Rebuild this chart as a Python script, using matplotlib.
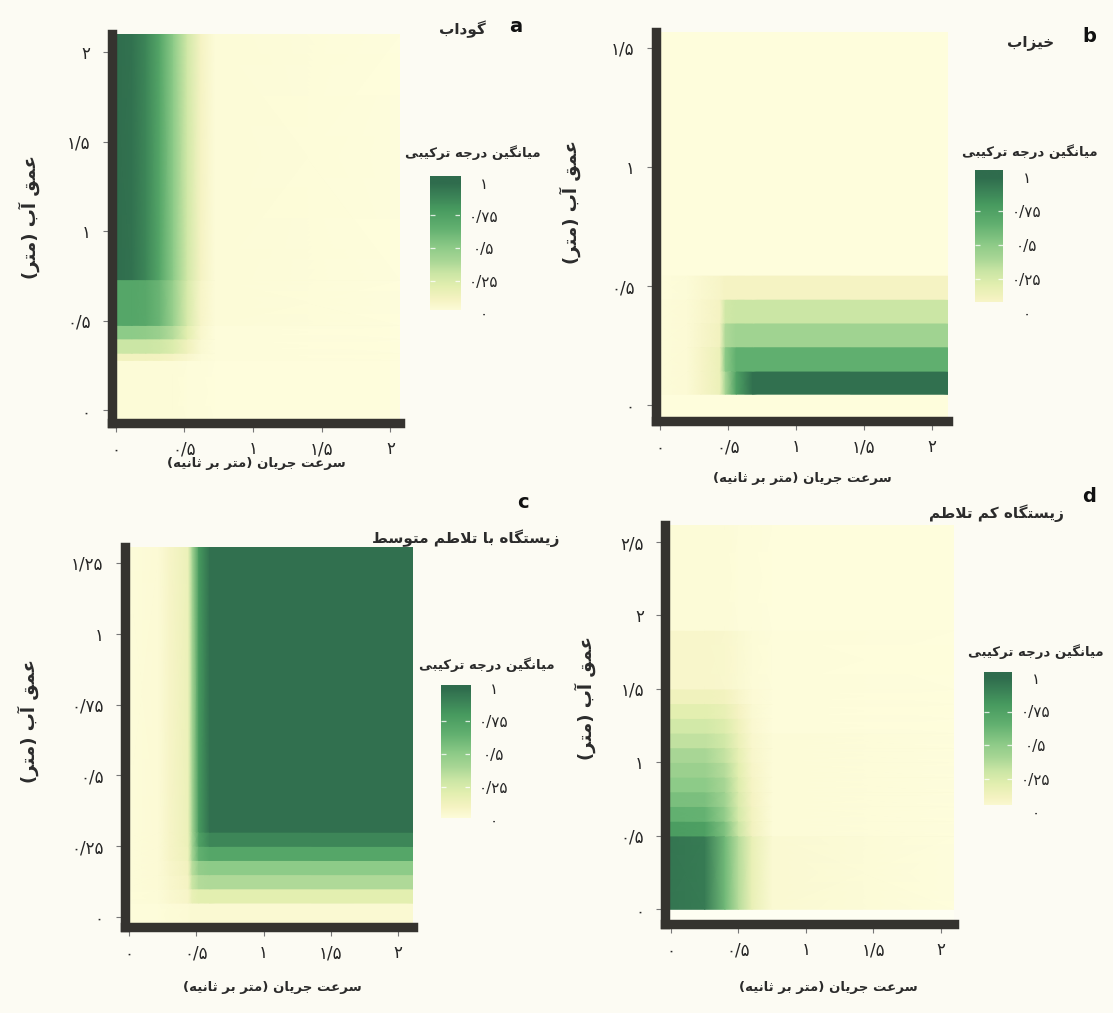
import unicodedata
import numpy as np
import matplotlib
matplotlib.use("Agg")
import matplotlib.pyplot as plt
from matplotlib import font_manager
from matplotlib.font_manager import FontProperties
from matplotlib.colors import LinearSegmentedColormap
from matplotlib.ticker import FuncFormatter
from fontTools.ttLib import TTFont

# mean composite score, x = current velocity (m/s), y = water depth (m)
# x nodes are blended smoothly, y edges give the depth bands
a_x = [-0.03, 0.12, 0.22, 0.32, 0.42, 0.52, 0.62, 0.72, 2.07]
a_y = [-0.07, 0.28, 0.32, 0.40, 0.475, 0.73, 2.10]
a_z = [
    [0.02, 0.02, 0.02, 0.02, 0.02, 0.01, 0.01, 0.00, 0.00],
    [0.12, 0.12, 0.12, 0.11, 0.09, 0.06, 0.02, 0.01, 0.00],
    [0.30, 0.30, 0.30, 0.28, 0.23, 0.13, 0.04, 0.01, 0.00],
    [0.50, 0.50, 0.49, 0.45, 0.36, 0.20, 0.06, 0.01, 0.00],
    [0.72, 0.72, 0.70, 0.62, 0.46, 0.25, 0.08, 0.02, 0.00],
    [1.00, 0.97, 0.88, 0.72, 0.50, 0.28, 0.10, 0.02, 0.00],
]

b_x = [-0.035, 0.20, 0.30, 0.44, 0.48, 0.56, 0.68, 2.12]
b_y = [-0.067, 0.046, 0.143, 0.245, 0.345, 0.445, 0.546, 1.567]
b_z = [
    [0.00, 0.00, 0.00, 0.00, 0.00, 0.00, 0.00, 0.00],
    [0.01, 0.03, 0.08, 0.15, 0.40, 0.75, 0.98, 0.98],
    [0.01, 0.03, 0.08, 0.15, 0.50, 0.66, 0.66, 0.66],
    [0.01, 0.03, 0.07, 0.12, 0.38, 0.43, 0.43, 0.43],
    [0.01, 0.03, 0.06, 0.10, 0.28, 0.30, 0.30, 0.30],
    [0.00, 0.02, 0.05, 0.08, 0.10, 0.10, 0.10, 0.10],
    [0.00, 0.00, 0.00, 0.00, 0.00, 0.00, 0.00, 0.00],
]

c_x = [-0.033, 0.22, 0.30, 0.44, 0.47, 0.52, 0.60, 2.11]
c_y = [-0.035, 0.05, 0.10, 0.15, 0.20, 0.25, 0.30, 1.306]
c_z = [
    [0.01, 0.01, 0.02, 0.03, 0.04, 0.04, 0.04, 0.04],
    [0.01, 0.02, 0.05, 0.08, 0.17, 0.20, 0.20, 0.20],
    [0.01, 0.03, 0.06, 0.10, 0.30, 0.37, 0.38, 0.38],
    [0.01, 0.03, 0.07, 0.12, 0.35, 0.48, 0.50, 0.50],
    [0.01, 0.03, 0.08, 0.14, 0.40, 0.65, 0.72, 0.72],
    [0.01, 0.03, 0.08, 0.15, 0.40, 0.75, 0.88, 0.88],
    [0.01, 0.03, 0.08, 0.15, 0.40, 0.80, 0.98, 0.98],
]

d_x = [-0.045, 0.25, 0.40, 0.50, 0.60, 0.75, 2.10]
d_y = [0.0, 0.5, 0.6, 0.7, 0.8, 0.9, 1.0, 1.1, 1.2, 1.3, 1.4, 1.5, 1.9, 2.616]
d_z = [
    [0.96, 0.93, 0.60, 0.36, 0.17, 0.04, 0.00],
    [0.78, 0.76, 0.55, 0.30, 0.12, 0.02, 0.00],
    [0.65, 0.64, 0.48, 0.26, 0.11, 0.02, 0.00],
    [0.57, 0.56, 0.43, 0.24, 0.10, 0.02, 0.00],
    [0.50, 0.50, 0.40, 0.22, 0.09, 0.02, 0.00],
    [0.45, 0.45, 0.36, 0.20, 0.08, 0.02, 0.00],
    [0.40, 0.40, 0.32, 0.18, 0.07, 0.02, 0.00],
    [0.33, 0.33, 0.27, 0.15, 0.06, 0.02, 0.00],
    [0.27, 0.27, 0.22, 0.13, 0.05, 0.01, 0.00],
    [0.20, 0.20, 0.17, 0.10, 0.04, 0.01, 0.00],
    [0.13, 0.13, 0.11, 0.07, 0.03, 0.01, 0.00],
    [0.07, 0.07, 0.06, 0.04, 0.02, 0.01, 0.00],
    [0.02, 0.02, 0.02, 0.01, 0.01, 0.00, 0.00],
]

x_ticks = [0, 0.5, 1, 1.5, 2]
a_yticks = [0, 0.5, 1, 1.5, 2]
b_yticks = [0, 0.5, 1, 1.5]
c_yticks = [0, 0.25, 0.5, 0.75, 1, 1.25]
d_yticks = [0, 0.5, 1, 1.5, 2, 2.5]
legend_ticks = [0, 0.25, 0.5, 0.75, 1]

y_label = "عمق آب (متر)"
x_label = "سرعت جریان (متر بر ثانیه)"
legend_title = "میانگین درجه ترکیبی"
titles = ["گوداب", "خیزاب", "زیستگاه با تلاطم متوسط", "زیستگاه کم تلاطم"]

W, H = 1113, 1013
BG = "#fcfbf3"
cmap = LinearSegmentedColormap.from_list("score", [
    (0.0, "#fefddc"), (0.1, "#f5f3c2"), (0.2, "#e3efb0"), (0.3, "#cbe6a5"),
    (0.4, "#a8d695"), (0.5, "#8ecb88"), (0.65, "#62b070"), (0.8, "#479a5f"),
    (0.9, "#3b8257"), (1.0, "#2f6c4d")])

# ---- minimal arabic shaping (matplotlib has no complex text layout)
FORMS = {  # isolated, final, initial, medial
    "ا": "ﺍﺎ", "آ": "ﺁﺂ", "د": "ﺩﺪ", "ذ": "ﺫﺬ", "ر": "ﺭﺮ", "ز": "ﺯﺰ",
    "ژ": "ﮊﮋ", "و": "ﻭﻮ",
    "ب": "ﺏﺐﺑﺒ", "ت": "ﺕﺖﺗﺘ", "ث": "ﺙﺚﺛﺜ", "ج": "ﺝﺞﺟﺠ", "ح": "ﺡﺢﺣﺤ",
    "خ": "ﺥﺦﺧﺨ", "س": "ﺱﺲﺳﺴ", "ش": "ﺵﺶﺷﺸ", "ص": "ﺹﺺﺻﺼ", "ض": "ﺽﺾﺿﻀ",
    "ط": "ﻁﻂﻃﻄ", "ظ": "ﻅﻆﻇﻈ", "ع": "ﻉﻊﻋﻌ", "غ": "ﻍﻎﻏﻐ", "ف": "ﻑﻒﻓﻔ",
    "ق": "ﻕﻖﻗﻘ", "ل": "ﻝﻞﻟﻠ", "م": "ﻡﻢﻣﻤ", "ن": "ﻥﻦﻧﻨ", "ه": "ﻩﻪﻫﻬ",
    "پ": "ﭖﭗﭘﭙ", "چ": "ﭺﭻﭼﭽ", "ک": "ﮎﮏﮐﮑ", "گ": "ﮒﮓﮔﮕ", "ی": "ﯼﯽﯾﯿ",
}
LAM_ALEF = {"ا": "ﻻﻼ", "آ": "ﻵﻶ"}
MIRROR = {"(": ")", ")": "("}


def font_cmap(weight):
    path = font_manager.findfont(FontProperties(family="DejaVu Sans", weight=weight))
    return TTFont(path).getBestCmap()


CMAPS = {"normal": font_cmap("normal"), "bold": font_cmap("bold")}


def shape(text, weight="normal"):
    cm = CMAPS[weight]
    s = unicodedata.normalize("NFC", text).replace("\u064a", "\u06cc").replace("\u0643", "\u06a9")
    fwd = lambda c: c in FORMS and len(FORMS[c]) == 4
    out = []
    i = 0
    while i < len(s):
        c = s[i]
        if c not in FORMS:
            out.append(MIRROR.get(c, c))
            i += 1
            continue
        prev = s[i - 1] if i > 0 else ""
        nxt = s[i + 1] if i + 1 < len(s) else ""
        cp = fwd(prev)
        if c == "ل" and nxt in LAM_ALEF:
            g = LAM_ALEF[nxt][1 if cp else 0]
            out.append(g if ord(g) in cm else c + nxt)
            i += 2
            continue
        cn = fwd(c) and nxt in FORMS
        f = FORMS[c]
        g = f[3] if (cp and cn) else f[1] if cp else f[2] if cn else f[0]
        out.append(g if ord(g) in cm else c)
        i += 1
    return "".join(reversed(out))


def pick_weight(strings):
    need = {ord(ch) for t in strings for ch in shape(t, "bold") if not ch.isspace()}
    return "bold" if need <= set(CMAPS["bold"]) else "normal"


BOLD = pick_weight([y_label, x_label, legend_title] + titles)

FA = str.maketrans("0123456789.", "۰۱۲۳۴۵۶۷۸۹/")


def fa_num(v, pos=None):
    return f"{v:g}".translate(FA)


fig = plt.figure(figsize=(W / 100, H / 100), dpi=100, facecolor=BG)


def rect(left, top, right, bottom):
    return [left / W, 1 - bottom / H, (right - left) / W, (bottom - top) / H]


def ftext(x, y, s, size, weight="normal", persian=True, **kw):
    kw.setdefault("ha", "center")
    kw.setdefault("va", "center")
    fig.text(x / W, 1 - y / H, shape(s, weight) if persian else s, fontsize=size,
             fontweight=weight, family="DejaVu Sans", color=kw.pop("color", "#2b2b2b"), **kw)


def heat(ax, xs, ys, zs):
    z = np.asarray(zs, float)
    yy = []
    for lo, hi in zip(ys[:-1], ys[1:]):
        yy += [lo + 1e-4, hi - 1e-4]
    X, Y = np.meshgrid(xs, yy)
    ax.pcolormesh(X, Y, np.repeat(z, 2, axis=0), shading="gouraud", cmap=cmap, vmin=0, vmax=1)


def panel(box, xs, ys, zs, yticks, xlim, ylim):
    ax = fig.add_axes(rect(*box))
    ax.set_facecolor("#fefef2")
    heat(ax, xs, ys, zs)
    ax.set_xlim(*xlim)
    ax.set_ylim(*ylim)
    ax.set_xticks(x_ticks)
    ax.set_yticks(yticks)
    ax.xaxis.set_major_formatter(FuncFormatter(fa_num))
    ax.yaxis.set_major_formatter(FuncFormatter(fa_num))
    for side in ("top", "right"):
        ax.spines[side].set_visible(False)
    for side in ("left", "bottom"):
        ax.spines[side].set_linewidth(6.8)
        ax.spines[side].set_color("#35332f")
    ax.spines["left"].set_capstyle("projecting")
    ax.tick_params(axis="both", direction="out", length=6.5, width=0.8, color="#777777",
                   labelsize=12, labelcolor="#262626")
    ax.tick_params(axis="y", pad=8.5)
    ax.tick_params(axis="x", pad=6)
    for lab in ax.get_xticklabels() + ax.get_yticklabels():
        lab.set_family("DejaVu Sans")
    return ax


def legend(x0, x1, y_one, y_zero, lo, hi):
    unit = y_zero - y_one
    bottom = y_zero + 0.05 * unit
    top = y_one - (hi - 1) * unit
    cax = fig.add_axes(rect(x0, top, x1, bottom))
    cax.patch.set_alpha(0)
    grad = np.linspace(lo, hi, 256)[:, None]
    cax.imshow(grad, extent=[0, 1, lo, hi], origin="lower", aspect="auto", cmap=cmap, vmin=0, vmax=1)
    for v in legend_ticks[1:-1]:
        cax.hlines(v, 0, 0.18, color="white", lw=0.9, alpha=0.8)
        cax.hlines(v, 0.82, 1, color="white", lw=0.9, alpha=0.8)
    cax.set_xlim(0, 1)
    cax.set_ylim(-0.05, hi)
    cax.set_xticks([])
    cax.yaxis.tick_right()
    cax.set_yticks(legend_ticks)
    cax.yaxis.set_major_formatter(FuncFormatter(fa_num))
    cax.tick_params(axis="y", length=0, pad=17, labelsize=11, labelcolor="#262626")
    for lab in cax.get_yticklabels():
        lab.set_ha("center")
        lab.set_family("DejaVu Sans")
    for sp in cax.spines.values():
        sp.set_visible(False)


# panel a
panel((111.5, 34, 400, 423), a_x, a_y, a_z, a_yticks, (-0.03, 2.07), (-0.07, 2.10))
legend(430, 460, 183, 313, 0.02, 1.05)
ftext(473, 153, legend_title, 9.5, BOLD)
ftext(29, 217, y_label, 13, BOLD, rotation=90)
ftext(256, 463, x_label, 9.5, BOLD)
ftext(462, 29, titles[0], 11, BOLD)
ftext(516, 27, "a", 14, "bold", persian=False, color="#111111")

# panel b
panel((655.5, 32, 948, 421), b_x, b_y, b_z, b_yticks, (-0.035, 2.12), (-0.067, 1.567))
legend(975, 1003, 177, 313, 0.08, 1.05)
ftext(1030, 152, legend_title, 9.5, BOLD)
ftext(570, 202, y_label, 13, BOLD, rotation=90)
ftext(802, 478, x_label, 9.5, BOLD)
ftext(1031, 42, titles[1], 11, BOLD)
ftext(1089, 37, "b", 14, "bold", persian=False, color="#111111")

# panel c
panel((124.5, 547, 413, 927), c_x, c_y, c_z, c_yticks, (-0.033, 2.11), (-0.035, 1.306))
legend(441, 470, 688, 820, 0.015, 1.02)
ftext(487, 665, legend_title, 9.5, BOLD)
ftext(28, 721, y_label, 13, BOLD, rotation=90)
ftext(272, 987, x_label, 9.5, BOLD)
ftext(559, 538, titles[2], 11, BOLD, ha="right")
ftext(523, 503, "c", 14, "bold", persian=False, color="#111111")

# panel d
panel((665, 525, 954, 924), d_x, d_y, d_z, d_yticks, (-0.045, 2.10), (-0.10, 2.616))
legend(984, 1012, 678, 812, 0.05, 1.045)
ftext(1036, 652, legend_title, 9.5, BOLD)
ftext(585, 698, y_label, 13, BOLD, rotation=90)
ftext(828, 987, x_label, 9.5, BOLD)
ftext(1064, 513, titles[3], 11, BOLD, ha="right")
ftext(1089, 497, "d", 14, "bold", persian=False, color="#111111")

fig.savefig("out.png", dpi=100, facecolor=BG)
